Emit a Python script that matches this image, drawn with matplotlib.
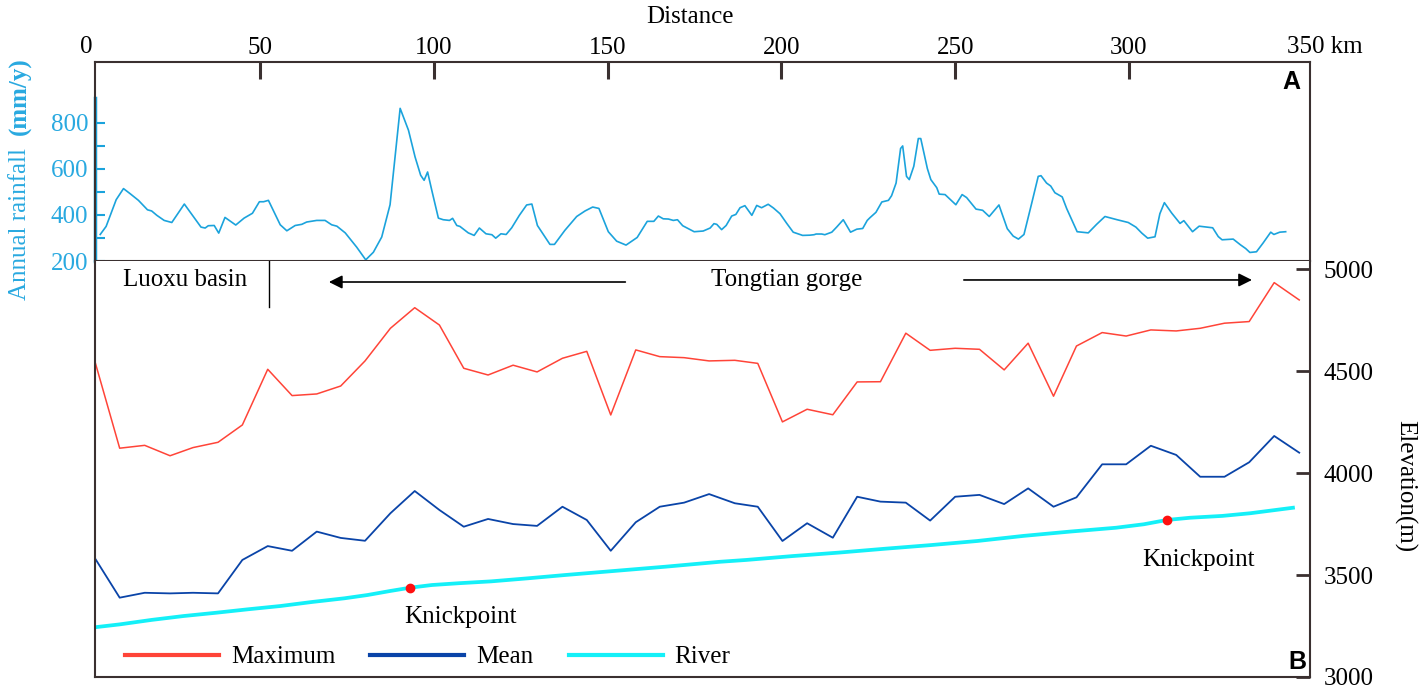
import matplotlib
matplotlib.use("Agg")
import matplotlib.pyplot as plt

# rainfall profile along the river (panel A)
rain_km = [4.0, 5.7, 8.6, 10.7, 12.6, 15.0, 17.6, 18.8, 20.3, 22.4, 24.6, 28.2, 30.8, 33.0,
           34.2, 35.1, 36.8, 38.1, 39.9, 43.0, 45.4, 47.8, 49.8, 51.0, 52.4, 55.8, 57.7,
           60.1, 62.0, 63.4, 66.3, 68.7, 70.6, 72.1, 74.5, 77.8, 80.4, 82.6, 85.0, 87.4,
           90.3, 92.7, 94.6, 96.2, 97.2, 98.2, 99.4, 101.3, 102.7, 104.5, 105.4, 106.6,
           107.5, 109.9, 111.6, 113.1, 115.0, 116.7, 117.8, 119.3, 120.8, 122.4, 124.6,
           126.7, 128.2, 129.8, 133.4, 134.7, 137.7, 141.1, 143.5, 145.7, 147.5, 150.2,
           152.6, 155.3, 158.5, 161.4, 163.3, 164.6, 166.0, 167.5, 168.9, 170.1, 171.6,
           174.9, 177.5, 179.5, 180.6, 181.4, 182.8, 184.1, 185.7, 186.9, 188.1, 189.5,
           191.5, 192.9, 194.3, 196.2, 197.7, 199.6, 201.5, 203.4, 206.1, 208.2, 209.4,
           210.0, 211.6, 212.5, 214.5, 215.9, 217.8, 219.9, 221.7, 223.4, 224.7, 225.5,
           227.2, 228.9, 230.8, 231.7, 233.0, 234.3, 234.9, 236.0, 236.8, 238.1, 239.4,
           240.1, 242.0, 243.0, 244.7, 245.4, 247.1, 250.2, 252.0, 253.3, 256.0, 257.9,
           259.8, 262.6, 265.0, 266.7, 268.2, 269.8, 272.0, 273.9, 274.7, 276.3, 277.5,
           278.7, 280.8, 282.1, 285.1, 288.3, 290.7, 293.1, 296.6, 299.8, 302.0, 303.7,
           305.4, 307.5, 308.9, 310.2, 312.3, 314.7, 315.8, 318.3, 320.2, 324.1, 325.7,
           326.8, 330.0, 332.1, 333.6, 334.8, 336.7, 338.6, 340.8, 341.7, 343.4, 345.1]
rain_mm = [315, 350, 466, 514, 492, 463, 422, 417, 398, 376, 367, 447, 393, 347,
           343, 353, 354, 321, 389, 356, 386, 407, 457, 457, 463, 357, 331,
           354, 359, 369, 376, 376, 357, 351, 322, 260, 205, 238, 304, 444,
           862, 767, 651, 572, 550, 586, 507, 386, 379, 376, 385, 354,
           350, 322, 311, 343, 318, 314, 299, 318, 315, 344, 398,
           443, 447, 354, 272, 272, 333, 393, 417, 434, 428, 327,
           286, 269, 302, 372, 372, 395, 383, 382, 376, 379, 353,
           327, 330, 343, 362, 359, 336, 354, 395, 402, 431, 440,
           398, 441, 431, 446, 430, 405, 364, 325, 311, 312, 314,
           317, 317, 314, 325, 347, 379, 325, 338, 341, 376, 388,
           411, 456, 463, 483, 538, 688, 699, 567, 553, 611, 731,
           731, 601, 553, 518, 490, 488, 444, 488, 475, 425, 420,
           393, 443, 340, 308, 295, 315, 449, 567, 570, 538, 525,
           496, 478, 427, 327, 322, 359, 393, 379, 367, 347, 321,
           299, 305, 405, 453, 408, 363, 375, 327, 351, 344, 306,
           292, 295, 270, 254, 237, 240, 278, 325, 315, 325, 327]

# swath profile (panel B)
profile_km = [2.5, 9.6, 16.8, 24.1, 30.7, 37.9, 44.9, 52.2, 59.2, 66.3, 73.2, 80.2, 87.5,
              94.5, 101.6, 108.6, 115.6, 122.8, 129.7, 137.0, 144.0, 150.9, 158.1, 165.0,
              172.0, 179.2, 186.6, 193.2, 200.3, 207.4, 214.8, 221.8, 228.5, 235.8, 242.8,
              250.0, 257.0, 264.1, 271.0, 278.3, 284.9, 292.3, 299.2, 306.3, 313.6, 320.5,
              327.5, 334.6, 341.8, 349.0]
max_elev = [4546, 4122, 4136, 4085, 4125, 4151, 4236, 4509, 4380, 4388, 4427, 4550, 4710,
            4811, 4726, 4514, 4481, 4529, 4496, 4563, 4597, 4285, 4604, 4571,
            4566, 4550, 4553, 4538, 4251, 4313, 4286, 4447, 4448, 4686, 4602,
            4612, 4607, 4506, 4637, 4377, 4623, 4689, 4672, 4702, 4697, 4710,
            4735, 4743, 4934, 4849]
mean_elev = [3582, 3389, 3413, 3410, 3413, 3410, 3574, 3642, 3619, 3713, 3682, 3668, 3803,
             3912, 3819, 3737, 3775, 3750, 3741, 3835, 3770, 3619, 3759, 3835,
             3855, 3897, 3852, 3835, 3667, 3754, 3683, 3884, 3860, 3855, 3767,
             3884, 3893, 3848, 3925, 3835, 3881, 4043, 4043, 4134, 4089, 3982,
             3982, 4053, 4182, 4100]
river_km = [2.5, 9.6, 18.8, 28.0, 37.3, 46.5, 55.8, 65.0, 74.3, 80.9, 87.5, 93.2, 99.4,
            107.3, 116.5, 127.1, 137.7, 146.9, 157.5, 166.7, 182.3, 189.9, 203.2, 216.5,
            229.8, 243.1, 256.4, 269.7, 283.0, 296.3, 304.3, 310.9, 317.6, 326.9, 334.9,
            347.2]
river_elev = [3244, 3258, 3280, 3299, 3315, 3332, 3348, 3368, 3386, 3402, 3422, 3438, 3451,
              3460, 3469, 3484, 3500, 3513, 3528, 3541, 3565, 3574, 3593, 3610,
              3629, 3647, 3667, 3692, 3713, 3732, 3749, 3770, 3781, 3790, 3803,
              3830]
knick_km = [93.2, 310.9]
knick_elev = [3438, 3770]

dist_ticks = [50, 100, 150, 200, 250, 300]
rain_ticks = [200, 300, 400, 500, 600, 700, 800]
rain_labels = ["200", "", "400", "", "600", "", "800"]
elev_ticks = [3000, 3500, 4000, 4500, 5000]

plt.rcParams["font.family"] = ["Liberation Serif", "DejaVu Serif"]
FS = 18

FRAME = "#3a3030"
RAIN = "#1ba3dc"
RAIN_TXT = "#29a9e0"
RED = "#ff4438"
BLUE = "#0a44a8"
CYAN = "#14f0f8"

fig = plt.figure(figsize=(14.25, 6.92), dpi=100)
ax_a = fig.add_axes([95 / 1425, 431 / 692, 1215 / 1425, 199 / 692])
ax_b = fig.add_axes([95 / 1425, 15 / 692, 1215 / 1425, 416 / 692])

xmin, xmax = 2.5, 352.1

# ---- panel A: rainfall ----
ax_a.plot(rain_km, rain_mm, color=RAIN, lw=1.2)
ax_a.set_xlim(xmin, xmax)
ax_a.set_ylim(200, 1063)
ax_a.xaxis.tick_top()
ax_a.set_xticks(dist_ticks)
ax_a.set_xticklabels([str(t) for t in dist_ticks])
ax_a.tick_params(axis="x", direction="in", length=12, width=2.2, color=FRAME, pad=2,
                 labelsize=FS)
ax_a.set_yticks(rain_ticks)
ax_a.set_yticklabels(rain_labels)
ax_a.tick_params(axis="y", direction="in", length=7, width=1.5, color=RAIN,
                 labelcolor=RAIN_TXT, pad=5, labelsize=FS)
for s in ax_a.spines.values():
    s.set_color(FRAME)
    s.set_linewidth(1.5)
ax_a.axvline(xmin, ymin=0, ymax=(906 - 200) / 863, color=RAIN, lw=2.5, clip_on=False)

ax_a.text(0, 1.02, "0", transform=ax_a.get_xaxis_transform(), ha="center", va="bottom",
          fontsize=FS)
ax_a.text(345.5, 1.02, "350 km", transform=ax_a.get_xaxis_transform(), ha="left",
          va="bottom", fontsize=FS)
ax_a.text(346.6, 976, "A", ha="center", va="center", fontsize=18, fontweight="bold",
          family="Liberation Sans")

fig.text(690 / 1425, 1 - 17 / 692, "Distance", ha="center", va="center", fontsize=FS)
fig.text(20 / 1425, 1 - 300 / 692, "Annual rainfall", rotation=90, ha="center",
         va="bottom", color=RAIN_TXT, fontsize=FS)
fig.text(20 / 1425, 1 - 57 / 692, "(mm/y)", rotation=90, ha="center", va="top",
         color=RAIN_TXT, fontsize=FS, fontweight="bold")

# ---- panel B: elevation ----
ax_b.plot(profile_km, max_elev, color=RED, lw=1.1, label="Maximum")
ax_b.plot(profile_km, mean_elev, color=BLUE, lw=1.3, label="Mean")
ax_b.plot(river_km, river_elev, color=CYAN, lw=2.7, label="River")
ax_b.plot(knick_km, knick_elev, "o", color="#ff1010", ms=6, zorder=5)
ax_b.set_xlim(xmin, xmax)
ax_b.set_ylim(3000, 5040)
ax_b.set_xticks([])
ax_b.yaxis.tick_right()
ax_b.set_yticks(elev_ticks)
ax_b.tick_params(axis="y", direction="in", length=10, width=2, color=FRAME, pad=10,
                 labelsize=FS)
for s in ax_b.spines.values():
    s.set_color(FRAME)
    s.set_linewidth(1.5)
ax_b.spines["top"].set_visible(False)
fig.text(1405 / 1425, 1 - 486 / 692, "Elevation(m)", rotation=270, ha="center",
         va="center", fontsize=FS)

ax_b.text(10.6, 4947, "Luoxu basin", ha="left", va="center", fontsize=FS)
ax_b.plot([52.6, 52.6], [4815, 5040], color="black", lw=1)
ax_b.text(201.6, 4947, "Tongtian gorge", ha="center", va="center", fontsize=FS)
ax_b.annotate("", xy=(69.0, 4937), xytext=(155.9, 4937),
              arrowprops=dict(arrowstyle="-|>", color="black", lw=1.2, mutation_scale=20))
ax_b.annotate("", xy=(336.2, 4947), xytext=(251.7, 4947),
              arrowprops=dict(arrowstyle="-|>", color="black", lw=1.2, mutation_scale=20))
ax_b.text(107.8, 3294, "Knickpoint", ha="center", va="center", fontsize=FS)
ax_b.text(320.1, 3574, "Knickpoint", ha="center", va="center", fontsize=FS)
ax_b.text(348.6, 3074, "B", ha="center", va="center", fontsize=18, fontweight="bold",
          family="Liberation Sans")

leg = ax_b.legend(loc="center left", bbox_to_anchor=(0.0247, 0.048), ncol=3,
                  frameon=False, fontsize=FS, handlelength=3.76, handletextpad=0.48,
                  columnspacing=1.4, borderpad=0, borderaxespad=0)
for line in leg.get_lines():
    line.set_linewidth(3)

fig.savefig("out.png", dpi=100)
